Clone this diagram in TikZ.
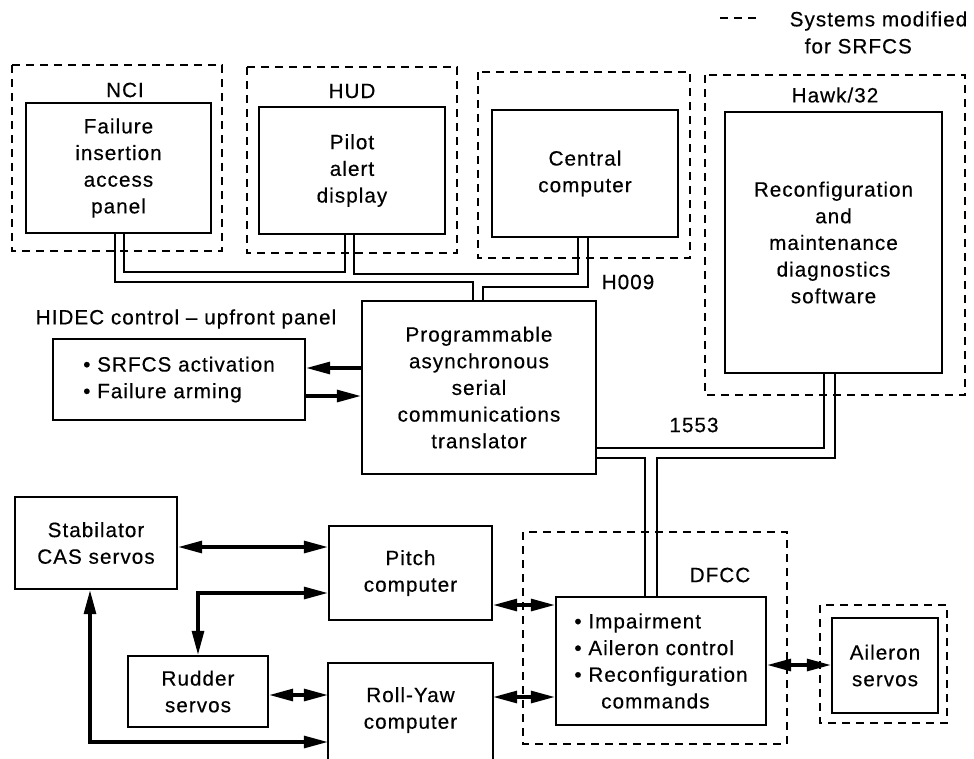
\documentclass[tikz,border=0pt]{standalone}
\usepackage{fontspec}
\setmainfont[LetterSpace=5,FakeBold=0.4]{Liberation Sans}
\usetikzlibrary{arrows.meta}

\begin{document}
\begin{tikzpicture}[x=0.75pt,y=0.75pt,yscale=-1,xscale=1,
  font=\fontsize{15.5}{20}\selectfont,
  blk/.style={draw, line width=1.8pt, inner sep=0pt, align=center},
  sysbox/.style={line width=1.3pt, dash pattern={on 6pt off 4.5pt}},
  bus/.style={line width=1.5pt},
  link/.style={line width=2.3pt, {Triangle[length=18pt,width=9pt]}-{Triangle[length=18pt,width=9pt]}},
  oneway/.style={line width=2.3pt, -{Triangle[length=18pt,width=9pt]}}]
\useasboundingbox (0,0) rectangle (974,758);
\clip (0,0) rectangle (974,758);

%Shape: Dashed frames (systems modified)
\draw [sysbox] (12,65) rectangle (222,251);
\draw [sysbox] (247,67) rectangle (457,253);
\draw [sysbox] (478,72) rectangle (690,258);
\draw [sysbox] (705,75) rectangle (965,395);
\draw [sysbox] (523,532) rectangle (787,744);
\draw [sysbox] (820,605) rectangle (947,723);
%Straight Lines (legend)
\draw [sysbox] (720,18) -- (757,18);

% Text Node
\node [anchor=west] (legtop) at (785,21) {Systems modified};
% Text Node
\node [anchor=west] (legbot) at (800,46) {for SRFCS};
% Text Node
\node (ncilbl) at (125,90) {NCI};
% Text Node
\node (hudlbl) at (352,91) {HUD};
% Text Node
\node (hawklbl) at (835,95) {Hawk/32};
% Text Node
\node (dfcclbl) at (720,575) {DFCC};
% Text Node
\node (hidlbl) at (186,319) {HIDEC control – upfront panel};
% Text Node
\node (hbuslbl) at (628,282) {H009};
% Text Node
\node (mbuslbl) at (694,425) {1553};

%Shape: Blocks
\node [blk, minimum width=138.75, minimum height=97.5] (nci) at (118.5,168) {Failure\\insertion\\access\\panel};
\node [blk, minimum width=139.5, minimum height=95.25] (hud) at (352,170.5) {Pilot\\alert\\display};
\node [blk, minimum width=139.5, minimum height=95.25] (cc) at (585,173.5) {Central\\computer};
\node [blk, minimum width=162.75, minimum height=195.75] (hawk) at (833.5,242.5) {Reconfiguration\\and\\maintenance\\diagnostics\\software};
\node [blk, minimum width=175.5, minimum height=129.75] (pasct) at (479,387.5) {Programmable\\asynchronous\\serial\\communications\\translator};
\node [blk, align=left, minimum width=189, minimum height=60.75] (hidec) at (179,379.5) {• SRFCS activation\\• Failure arming};
\node [blk, minimum width=121.5, minimum height=69] (stab) at (96,543) {Stabilator\\CAS servos};
\node [blk, minimum width=122.25, minimum height=70.5] (pitch) at (410.5,573) {Pitch\\computer};
\node [blk, minimum width=105, minimum height=53.25] (rudder) at (198,691.5) {Rudder\\servos};
\node [blk, draw=none, minimum width=122.25, minimum height=69] (rollyaw) at (410.5,710) {Roll-Yaw\\computer};
\draw [line width=1.8pt] (rollyaw.north west) ++(0,110) |- (rollyaw.north east) -- ++(0,110);
\node [blk, align=left, minimum width=157.5, minimum height=96] (dfcc) at (661,661) {• Impairment\\• Aileron control\\• Reconfiguration\\\hspace*{1.3em}commands};
\node [blk, minimum width=79.5, minimum height=71.25] (ail) at (885,665.5) {Aileron\\servos};

%Straight Lines: H009 bus
\draw [bus] (115,0 |- nci.south) |- (473,282) -- (473,0 |- pasct.north);
\draw [bus] (124,0 |- nci.south) |- (345,272) -- (345,0 |- hud.south);
\draw [bus] (354,0 |- hud.south) |- (578,274) -- (578,0 |- cc.south);
\draw [bus] (588,0 |- cc.south) |- (483,287) -- (483,0 |- pasct.north);
%Straight Lines: 1553 bus
\draw [bus] (824,0 |- hawk.south) |- (pasct.east |- 0,448);
\draw [bus] (835,0 |- hawk.south) |- (657,458) -- (657,0 |- dfcc.north);
\draw [bus] (pasct.east |- 0,458) -| (645,0 |- dfcc.north);

%Arrows
\draw [oneway] (pasct.west |- 0,368) -- (hidec.east |- 0,368);
\draw [oneway] (hidec.east |- 0,396) -- (pasct.west |- 0,396);
\draw [link] (stab.east |- 0,547) -- (pitch.west |- 0,547);
\draw [link] (pitch.west |- 0,593) -| (rudder.north);
\draw [link] (rudder.east |- 0,695) -- (rollyaw.west |- 0,695);
\draw [link] (90,0 |- stab.south) |- (rollyaw.west |- 0,742);
\draw [link] (pitch.east |- 0,605) -- (dfcc.west |- 0,605);
\draw [link] (rollyaw.east |- 0,697) -- (dfcc.west |- 0,697);
\draw [link] (dfcc.east |- 0,665) -- (ail.west |- 0,665);

\end{tikzpicture}
\end{document}
